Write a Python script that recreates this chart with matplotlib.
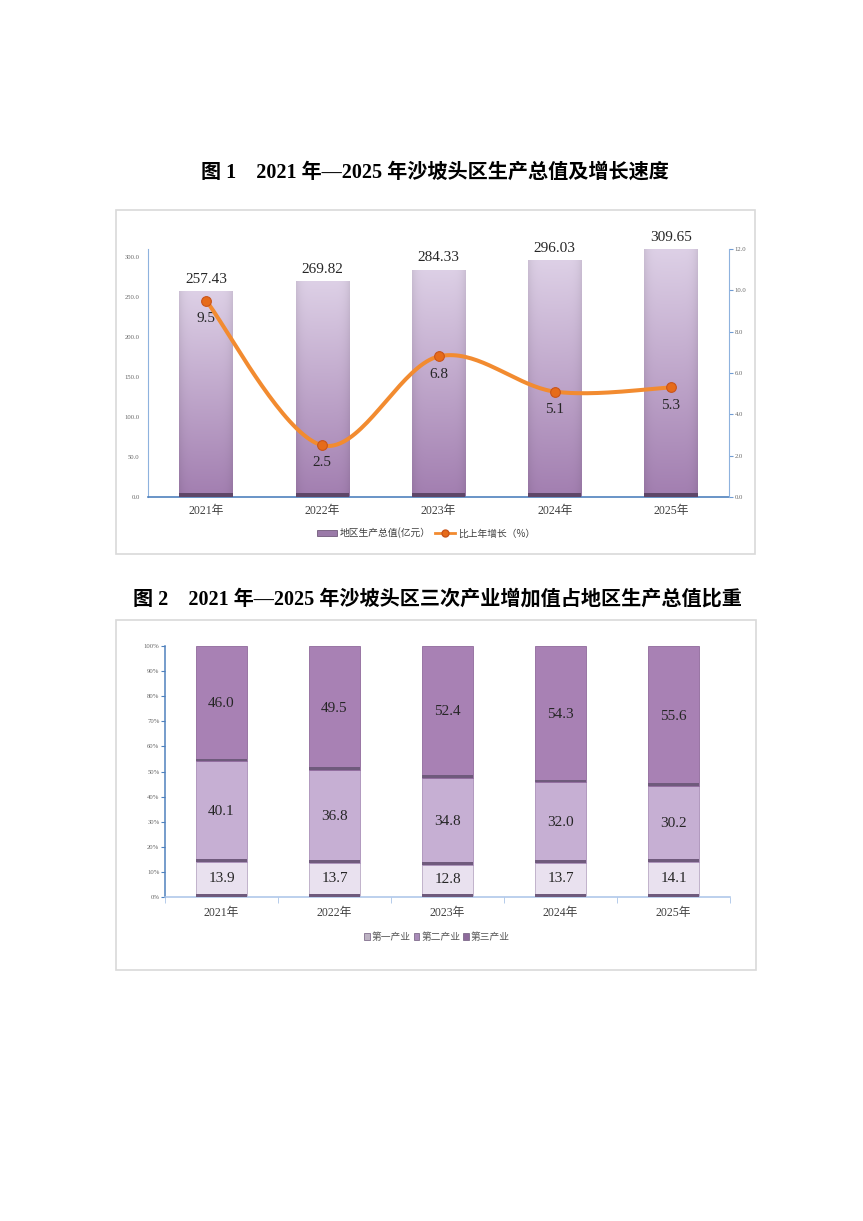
import numpy as np
import matplotlib
matplotlib.use("Agg")
import matplotlib.pyplot as plt
from matplotlib.patches import Rectangle, Patch
from matplotlib.lines import Line2D
from matplotlib.colors import to_rgb

# data
years = ["2021年", "2022年", "2023年", "2024年", "2025年"]
gdp = [257.43, 269.82, 284.33, 296.03, 309.65]          # 地区生产总值(亿元)
growth = [9.5, 2.5, 6.8, 5.1, 5.3]                       # 比上年增长(%)
primary = [13.9, 13.7, 12.8, 13.7, 14.1]                 # 第一产业
secondary = [40.1, 36.8, 34.8, 32.0, 30.2]               # 第二产业
tertiary = [46.0, 49.5, 52.4, 54.3, 55.6]                # 第三产业

SERIF = ["Liberation Serif", "Noto Sans CJK SC"]
CJK = ["Noto Sans CJK SC", "DejaVu Sans"]
plt.rcParams["font.family"] = SERIF

W, H = 863, 1221
fig = plt.figure(figsize=(W / 100, H / 100), dpi=100)


def fx(px):
    return px / W


def fy(py):
    return 1 - py / H


# frames around each chart
fig.add_artist(Rectangle((fx(116), fy(554)), fx(639), 344 / H, transform=fig.transFigure,
                         fill=False, edgecolor="#d9d9d9", lw=1.2))
fig.add_artist(Rectangle((fx(116), fy(970)), fx(640), 350 / H, transform=fig.transFigure,
                         fill=False, edgecolor="#d9d9d9", lw=1.2))

# titles
fig.text(0.504, fy(173), "图 1　2021 年—2025 年沙坡头区生产总值及增长速度",
         ha="center", va="center", fontsize=14.5, fontweight="bold", family=SERIF)
fig.text(0.507, fy(600), "图 2　2021 年—2025 年沙坡头区三次产业增加值占地区生产总值比重",
         ha="center", va="center", fontsize=14.5, fontweight="bold", family=SERIF)

# ---------------- chart 1 ----------------
ax = fig.add_axes([fx(148), fy(497), fx(581), 248 / H])
x = np.arange(len(years))
bars = ax.bar(x, gdp, width=0.46, color="none", edgecolor="none", zorder=2)

top_c = np.array(to_rgb("#ddd0e6"))
bot_c = np.array(to_rgb("#a27eb0"))
t = np.linspace(0, 1, 200)[:, None]
col = top_c * (1 - t) + bot_c * t
side = np.linspace(-1, 1, 60)
shade = 1 - 0.08 * np.abs(side) ** 6
img = col[:, None, :] * shade[None, :, None]
for b in bars:
    x0, w, h = b.get_x(), b.get_width(), b.get_height()
    im = ax.imshow(img, extent=(x0, x0 + w, 0, h), aspect="auto", zorder=2,
                   interpolation="bilinear")
    im.set_clip_path(b)
ax.bar(x, [5] * len(x), width=0.46, color="#5e4668", zorder=3)

for xi, v in zip(x, gdp):
    ax.annotate(f"{v:.2f}", (xi, v), xytext=(0, 4), textcoords="offset points",
                ha="center", va="bottom", fontsize=11, color="#262626")

ax.set_xlim(-0.5, 4.5)
ax.set_ylim(0, 310)
ax.set_yticks(np.arange(0, 301, 50))
ax.set_yticklabels([f"{v:.1f}" for v in np.arange(0, 301, 50)])
ax.tick_params(axis="y", length=0, labelsize=4.8, labelcolor="#666666", pad=6)
ax.set_xticks(x)
ax.set_xticklabels(years, family=SERIF)
ax.tick_params(axis="x", length=0, labelsize=8.5, labelcolor="#404040", pad=6)
ax.spines["top"].set_visible(False)
ax.spines["left"].set_color("#8eb2de")
ax.spines["right"].set_visible(False)
ax.spines["bottom"].set_color("#4f81bd")
ax.spines["bottom"].set_linewidth(1.2)

ax2 = ax.twinx()
ax2.set_ylim(0, 12)
ax2.set_yticks(np.arange(0, 12.1, 2))
ax2.set_yticklabels([f"{v:.1f}" for v in np.arange(0, 12.1, 2)])
ax2.tick_params(axis="y", length=3, color="#6f9bd3", labelsize=4.8, labelcolor="#666666", pad=1)
for s in ["top", "left", "bottom"]:
    ax2.spines[s].set_visible(False)
ax2.spines["right"].set_color("#8eb2de")


def catmull_rom(xs, ys, n=40):
    P = np.column_stack([np.asarray(xs, float), np.asarray(ys, float)])
    P = np.vstack([P[0], P, P[-1]])
    out = []
    for i in range(1, len(P) - 2):
        p0, p1, p2, p3 = P[i - 1], P[i], P[i + 1], P[i + 2]
        s = np.linspace(0, 1, n)[:, None]
        seg = 0.5 * ((2 * p1) + (-p0 + p2) * s + (2 * p0 - 5 * p1 + 4 * p2 - p3) * s ** 2
                     + (-p0 + 3 * p1 - 3 * p2 + p3) * s ** 3)
        out.append(seg)
    out = np.vstack(out)
    return out[:, 0], out[:, 1]


sx, sy = catmull_rom(x, growth)
ax2.plot(sx, sy, color="#f28b30", lw=2.9, solid_capstyle="round", zorder=4)
ax2.plot(x, growth, "o", ms=7, mfc="#e66b1a", mec="#c9541a", mew=0.8, zorder=5)
for xi, v in zip(x, growth):
    ax2.annotate(f"{v:.1f}", (xi, v), xytext=(0, -8), textcoords="offset points",
                 ha="center", va="top", fontsize=11, color="#262626")

h1 = Patch(facecolor="#9a7aa8", edgecolor="#5e4668", lw=0.5)
h2 = Line2D([], [], color="#f28b30", lw=2, marker="o", ms=5, mfc="#e66b1a", mec="#c9541a")
fig.legend([h1, h2], ["地区生产总值(亿元）", "比上年增长（%）"], loc="center",
           bbox_to_anchor=(fx(426), fy(533)), ncol=2, frameon=False,
           prop={"family": CJK, "size": 7}, handlelength=2.0, handleheight=0.5,
           columnspacing=0.5, handletextpad=0.3, labelcolor="#404040")

# ---------------- chart 2 ----------------
bx = fig.add_axes([fx(165), fy(897), fx(565), 251 / H])
bw = 0.45
c1, c2, c3 = "#e9e1ef", "#c6afd3", "#a881b4"
band = "#6f5a7c"
bot2 = np.array(primary)
bot3 = bot2 + np.array(secondary)
bx.bar(x, primary, width=bw, color=c1, edgecolor="#b9a9c4", lw=0.6, zorder=2)
bx.bar(x, secondary, bottom=bot2, width=bw, color=c2, edgecolor="#a98fb8", lw=0.6, zorder=2)
bx.bar(x, tertiary, bottom=bot3, width=bw, color=c3, edgecolor="#8f6a9c", lw=0.6, zorder=2)
for b0 in [np.zeros(len(x)), bot2, bot3]:
    bx.bar(x, [1.1] * len(x), bottom=b0, width=bw, color=band, zorder=3)

for xi, a, b, c in zip(x, primary, secondary, tertiary):
    bx.text(xi, a / 2 + 0.5, f"{a:.1f}", ha="center", va="center", fontsize=11, color="#262626")
    bx.text(xi, a + b / 2, f"{b:.1f}", ha="center", va="center", fontsize=11, color="#262626")
    bx.text(xi, a + b + c / 2, f"{c:.1f}", ha="center", va="center", fontsize=11, color="#262626")

bx.set_xlim(-0.5, 4.5)
bx.set_ylim(0, 100)
bx.set_yticks(np.arange(0, 101, 10))
bx.set_yticklabels([f"{v}%" for v in range(0, 101, 10)])
bx.tick_params(axis="y", length=3, color="#4f81bd", labelsize=4.8, labelcolor="#666666", pad=1)
bx.set_xticks(x)
bx.set_xticklabels(years, family=SERIF)
bx.tick_params(axis="x", which="major", length=0, labelsize=8.5, labelcolor="#404040", pad=7)
bx.set_xticks(np.arange(-0.5, 4.6, 1), minor=True)
bx.tick_params(axis="x", which="minor", length=4, color="#a9c4e8")
bx.spines["top"].set_visible(False)
bx.spines["right"].set_visible(False)
bx.spines["left"].set_color("#4f81bd")
bx.spines["left"].set_linewidth(1.1)
bx.spines["bottom"].set_color("#a9c4e8")
bx.spines["bottom"].set_linewidth(1.1)

hs = [Patch(facecolor=c, edgecolor=band, lw=0.5) for c in ["#bdb3c3", "#a88bb8", "#8d6a9b"]]
fig.legend(hs, ["第一产业", "第二产业", "第三产业"], loc="center",
           bbox_to_anchor=(fx(437), fy(937)), ncol=3, frameon=False,
           prop={"family": CJK, "size": 7}, handlelength=0.6, handleheight=0.6,
           columnspacing=0.3, handletextpad=0.2, labelcolor="#555555")

fig.savefig("out.png", dpi=100)
